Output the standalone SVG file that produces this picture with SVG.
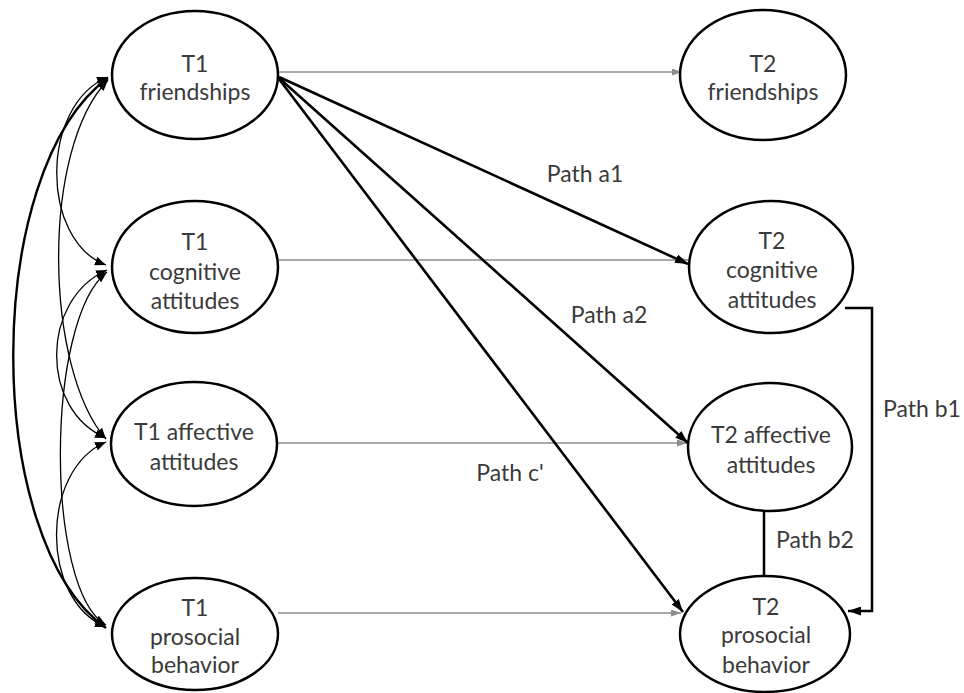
<svg xmlns="http://www.w3.org/2000/svg" width="964" height="693" viewBox="0 0 964 693">
  <style>
    .node ellipse { fill: #ffffff; stroke: #000000; stroke-width: 2.5; }
    text { font-family: Lato, "Liberation Sans", sans-serif; font-size: 23px; fill: #3a3a3a; text-anchor: middle; }
    .stab { fill: none; stroke: #8c8c8c; stroke-width: 1.5; marker-end: url(#gray-head); }
    .path { fill: none; stroke: #000000; stroke-width: 2.6; marker-end: url(#bold-head); }
    .cov { fill: none; stroke: #000000; stroke-width: 1.3; marker-start: url(#cov-head); marker-end: url(#cov-head); }
    .cov.thick { stroke-width: 2.4; }
    .link { fill: none; stroke: #000000; stroke-width: 2.5; }
  </style>
  <defs>
    <marker id="cov-head" markerUnits="userSpaceOnUse" viewBox="0 0 11 9" refX="11" refY="4.5" markerWidth="11" markerHeight="9" orient="auto-start-reverse">
      <path d="M0,0 L11,4.5 L0,9 z" fill="#000000"/>
    </marker>
    <marker id="bold-head" markerUnits="userSpaceOnUse" viewBox="0 0 13 9" refX="13" refY="4.5" markerWidth="13" markerHeight="9" orient="auto">
      <path d="M0,0 L13,4.5 L0,9 z" fill="#000000"/>
    </marker>
    <marker id="gray-head" markerUnits="userSpaceOnUse" viewBox="0 0 10 7" refX="10" refY="3.5" markerWidth="10" markerHeight="7" orient="auto">
      <path d="M0,0 L10,3.5 L0,7 z" fill="#8c8c8c"/>
    </marker>
  </defs>

  <!-- connectors -->
  <g id="connectors">
    <!-- stability paths T1 -> T2 -->
    <path class="stab" d="M279,72 L682,72"/>
    <path class="stab" d="M279,260 L688,260"/>
    <path class="stab" d="M277,443 L687,443"/>
    <path class="stab" d="M278,613 L681,613"/>
    <!-- friendships effects -->
    <path class="path" d="M279,77 L688,264"/>
    <path class="path" d="M279,78 L688,443"/>
    <path class="path" d="M279,79 L683,612"/>
    <!-- path b1 bracket -->
    <path class="link" d="M845,308 L872,308 L872,611 L848,611" marker-end="url(#bold-head)"/>
    <!-- path b2 -->
    <path class="link" d="M764,511 L764,576"/>
    <!-- T1 covariances -->
    <path class="cov thick" d="M108,78 C-18,170 -18,540 106,628"/>
    <path class="cov" d="M108,77 C40,105 40,240 106,265"/>
    <path class="cov" d="M108,80 C40,150 45,370 106,439"/>
    <path class="cov" d="M107,270 C40,300 40,410 106,438"/>
    <path class="cov" d="M107,272 C45,320 45,590 106,625"/>
    <path class="cov" d="M106,442 C40,470 40,600 106,627"/>
  </g>

  <!-- T1 nodes -->
  <g id="t1-friendships" class="node">
    <ellipse cx="195" cy="75" rx="83" ry="64"/>
    <text x="195" y="72">T1</text>
    <text x="195" y="100">friendships</text>
  </g>
  <g id="t1-cognitive" class="node">
    <ellipse cx="195" cy="267" rx="83" ry="66"/>
    <text x="195" y="250">T1</text>
    <text x="195" y="280">cognitive</text>
    <text x="195" y="309">attitudes</text>
  </g>
  <g id="t1-affective" class="node">
    <ellipse cx="194" cy="444" rx="83" ry="62"/>
    <text x="194" y="440">T1 affective</text>
    <text x="194" y="470">attitudes</text>
  </g>
  <g id="t1-prosocial" class="node">
    <ellipse cx="195" cy="634" rx="83" ry="56"/>
    <text x="195" y="616">T1</text>
    <text x="195" y="645">prosocial</text>
    <text x="195" y="673">behavior</text>
  </g>

  <!-- T2 nodes -->
  <g id="t2-friendships" class="node">
    <ellipse cx="763" cy="75" rx="83" ry="65"/>
    <text x="763" y="72">T2</text>
    <text x="763" y="100">friendships</text>
  </g>
  <g id="t2-cognitive" class="node">
    <ellipse cx="771" cy="267" rx="82" ry="66"/>
    <text x="772" y="249">T2</text>
    <text x="772" y="278">cognitive</text>
    <text x="772" y="308">attitudes</text>
  </g>
  <g id="t2-affective" class="node">
    <ellipse cx="770" cy="447" rx="82" ry="64"/>
    <text x="771" y="443">T2 affective</text>
    <text x="771" y="473">attitudes</text>
  </g>
  <g id="t2-prosocial" class="node">
    <ellipse cx="765" cy="634" rx="85" ry="58"/>
    <text x="766" y="615">T2</text>
    <text x="766" y="643">prosocial</text>
    <text x="766" y="673">behavior</text>
  </g>

  <!-- path labels -->
  <g id="labels">
    <text x="585" y="182">Path a1</text>
    <text x="609" y="323">Path a2</text>
    <text x="922" y="417">Path b1</text>
    <text x="815" y="548">Path b2</text>
    <text x="510" y="481">Path c'</text>
  </g>
</svg>
